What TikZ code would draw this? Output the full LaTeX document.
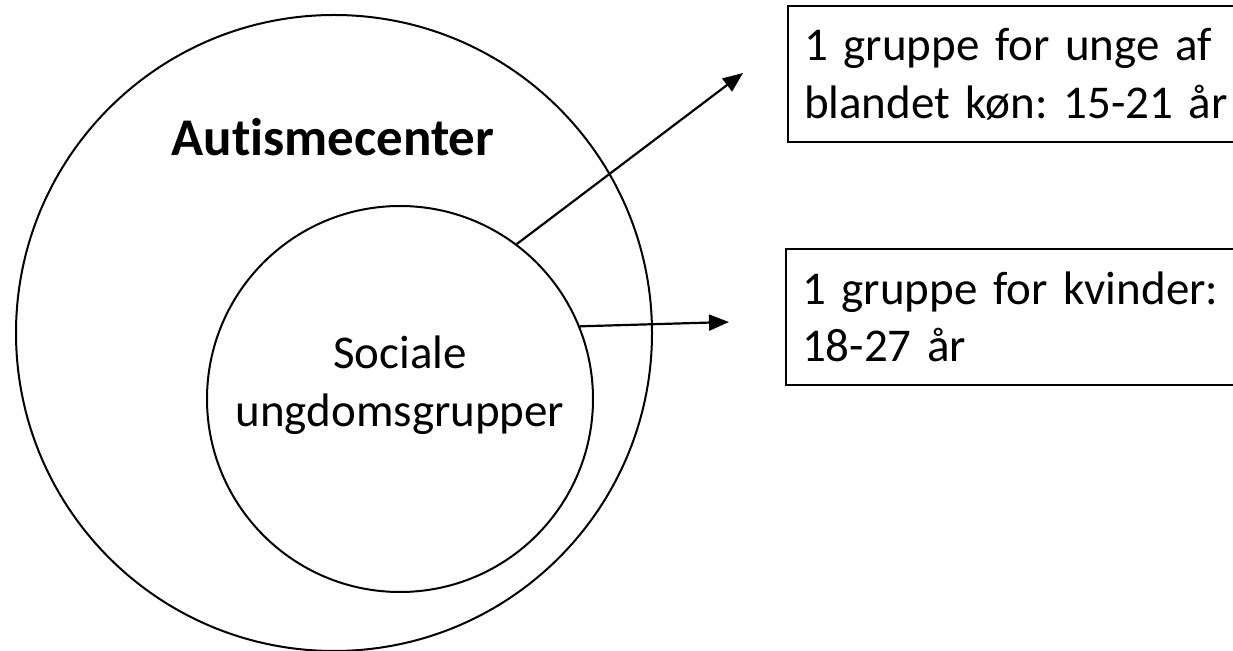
\documentclass[tikz,border=0pt]{standalone}
\usepackage{fontspec}
\setmainfont{Carlito}[Ligatures=NoCommon,WordSpace=0.9]
\frenchspacing
\usetikzlibrary{arrows.meta}
\tikzstyle{ring}=[draw,circle,inner sep=0pt,line width=1pt]
\tikzstyle{groupbox}=[draw,anchor=north west,align=left,text width=260pt,inner xsep=8pt,inner ysep=0pt,minimum height=68pt,line width=1pt,font=\fontsize{23.5}{28.8}\selectfont]
\tikzstyle{every edge}=[draw,line width=1.1pt,-{Triangle[length=10pt,width=8pt]}]

\begin{document}
\begin{tikzpicture}[x=0.5pt,y=-0.5pt]
  \useasboundingbox (0,0) rectangle (1233,651);
  \clip (0,0) rectangle (1233,651);
  \node[ring,minimum size=318pt] (centre) at (334,333) {};
  \node[ring,minimum size=193pt] (groups) at (400,399) {};
  \node[font=\bfseries\fontsize{26.5}{32}\selectfont,anchor=base] (centrelbl) at (333,156) {Autismecenter};
  \node[font=\fontsize{23.5}{28.8}\selectfont,align=center] (groupslbl) at (400,385) {Sociale\\ungdomsgrupper};
  \node[groupbox] (mixed) at (787,5) {1 gruppe for unge af\\blandet køn: 15-21 år};
  \node[groupbox] (women) at (785,248) {1 gruppe for kvinder:\\18-27 år};
  \coordinate (mixedtip) at (743,73);
  \coordinate (womentip) at (729,322);
  \path (groups.53) edge (mixedtip)
        (groups.22) edge (womentip);
\end{tikzpicture}
\end{document}
